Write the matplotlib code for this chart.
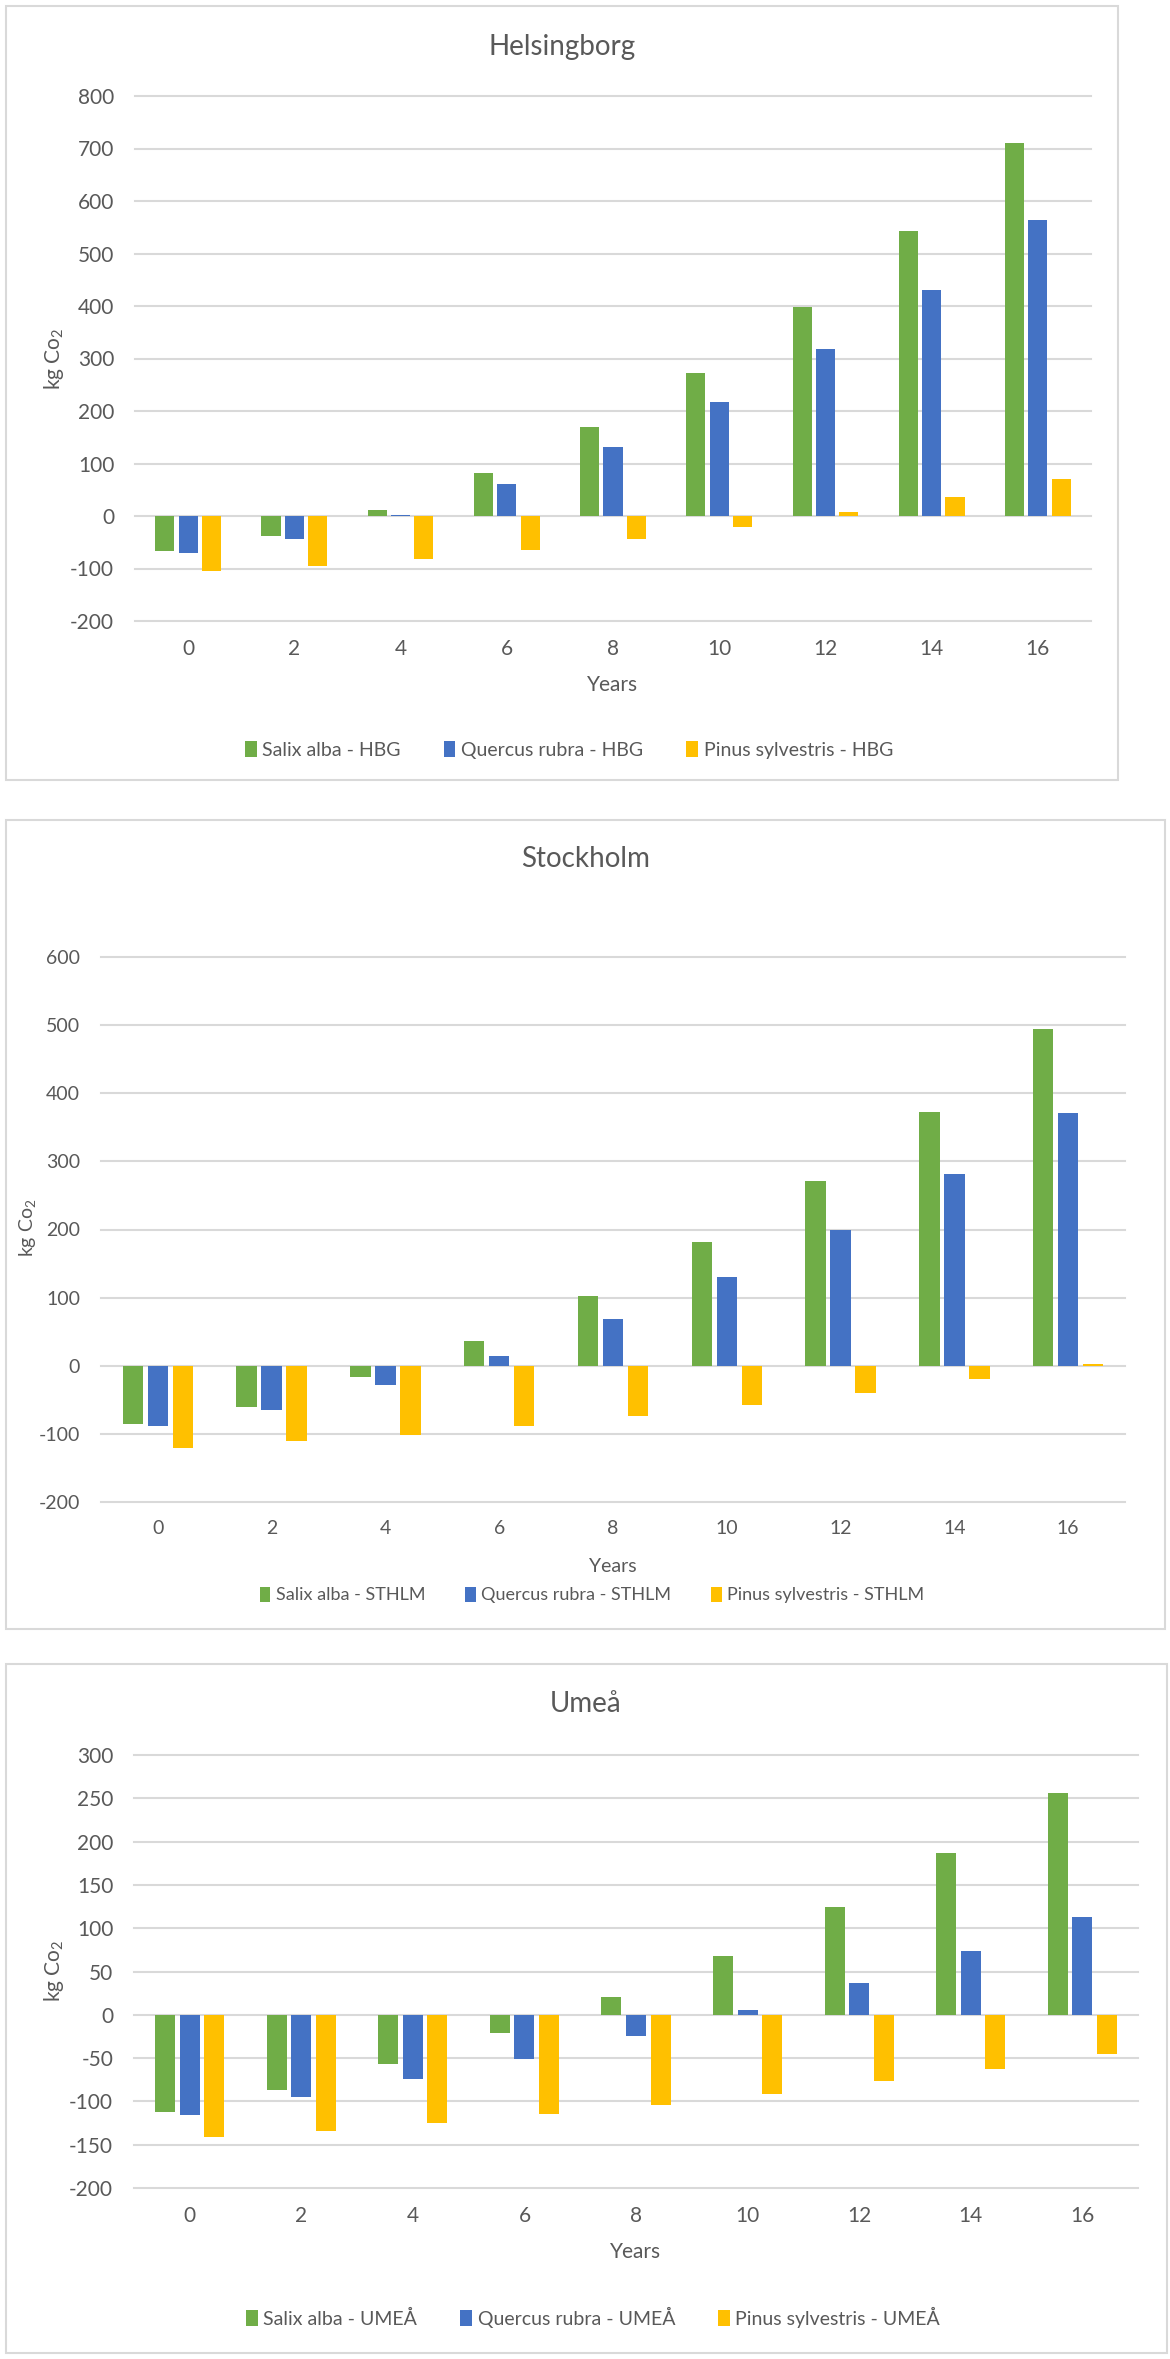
import numpy as np
import matplotlib
matplotlib.use('Agg')
import matplotlib.pyplot as plt
from matplotlib.patches import Rectangle

plt.rcParams['font.family'] = ['Lato', 'DejaVu Sans']
plt.rcParams['mathtext.fontset'] = 'custom'
plt.rcParams['mathtext.rm'] = 'Lato'
plt.rcParams['mathtext.it'] = 'Lato:italic'
plt.rcParams['axes.unicode_minus'] = False

years = ['0', '2', '4', '6', '8', '10', '12', '14', '16']

# Helsingborg
hbg_salix = [-66, -39, 12, 82, 169, 273, 398, 543, 710]
hbg_quercus = [-71, -44, 2, 61, 132, 217, 318, 431, 564]
hbg_pinus = [-105, -95, -81, -64, -44, -21, 7, 36, 70]

# Stockholm
sthlm_salix = [-85, -60, -17, 36, 102, 182, 271, 373, 495]
sthlm_quercus = [-89, -65, -28, 15, 68, 130, 200, 281, 371]
sthlm_pinus = [-120, -111, -101, -89, -74, -58, -40, -20, 2]

# Umea
umea_salix = [-112, -87, -57, -21, 20, 68, 124, 187, 256]
umea_quercus = [-116, -95, -74, -51, -25, 5, 37, 74, 113]
umea_pinus = [-141, -134, -125, -115, -104, -91, -77, -63, -45]

green = '#70AD47'
blue = '#4472C4'
gold = '#FFC000'
grid = '#D9D9D9'
txt = '#595959'

W, H = 1170, 2359
fig = plt.figure(figsize=(W / 100, H / 100), dpi=100)


def fx(x):
    return x / W


def fy(y):
    return 1 - y / H


def frame(x0, y0, x1, y1):
    fig.patches.append(Rectangle((fx(x0), fy(y1)), fx(x1 - x0), (y1 - y0) / H,
                                 transform=fig.transFigure, facecolor='none',
                                 edgecolor=grid, lw=1.5, zorder=-1))


def panel(box, ylim, step, title, tpos, series, labels, xl_y, leg_pos, ylab_pos, fs=14):
    x0, y0, x1, y1 = box
    ax = fig.add_axes([fx(x0), fy(y1), fx(x1 - x0), (y1 - y0) / H], zorder=2)
    ax.patch.set_alpha(0)
    x = np.arange(len(years))
    cols = [green, blue, gold]
    offs = [-0.22, 0, 0.22]
    for s, c, o, lab in zip(series, cols, offs, labels):
        ax.bar(x + o, s, 0.18, color=c, label=lab, zorder=3)
    ax.set_xlim(-0.5, len(years) - 0.5)
    ax.set_ylim(*ylim)
    ax.set_yticks(np.arange(ylim[0], ylim[1] + 1, step))
    ax.set_xticks(x)
    ax.set_xticklabels(years)
    for sp in ax.spines.values():
        sp.set_visible(False)
    ax.tick_params(length=0, labelsize=fs + 1, colors=txt)
    ax.tick_params(axis='y', pad=15)
    ax.tick_params(axis='x', pad=13)
    ax.yaxis.grid(True, color=grid, lw=1.5, zorder=0)
    for gl in ax.get_ygridlines():
        gl.set_clip_on(False)
    ax.set_axisbelow(True)
    fig.text(fx(tpos[0]), fy(tpos[1]), title, ha='center', va='center',
             fontsize=20, color=txt)
    fig.text(fx((x0 + x1) / 2), fy(xl_y), 'Years', ha='center', va='center',
             fontsize=fs + 1, color=txt)
    fig.text(fx(ylab_pos[0]), fy(ylab_pos[1]), 'kg Co$_2$', ha='center', va='center',
             rotation=90, fontsize=fs + 1, color=txt)
    ax.legend(loc='center', bbox_to_anchor=(fx(leg_pos[0]), fy(leg_pos[1])),
              bbox_transform=fig.transFigure, ncol=3, frameon=False,
              fontsize=fs, handlelength=0.6, handleheight=0.9, handletextpad=0.3,
              columnspacing=2.2, labelcolor=txt)
    return ax


frame(6, 6, 1118, 780)
panel((135, 96, 1091, 621), (-200, 800), 100, 'Helsingborg', (562, 47),
      [hbg_salix, hbg_quercus, hbg_pinus],
      ['Salix alba - HBG', 'Quercus rubra - HBG', 'Pinus sylvestris - HBG'],
      685, (569, 750), (54, 359))

frame(6, 820, 1165, 1629)
panel((101, 957, 1125, 1502), (-200, 600), 100, 'Stockholm', (586, 859),
      [sthlm_salix, sthlm_quercus, sthlm_pinus],
      ['Salix alba - STHLM', 'Quercus rubra - STHLM', 'Pinus sylvestris - STHLM'],
      1567, (592, 1595), (27, 1228), fs=13)

frame(6, 1664, 1167, 2353)
panel((134, 1755, 1138, 2188), (-200, 300), 50, 'Umeå', (586, 1704),
      [umea_salix, umea_quercus, umea_pinus],
      ['Salix alba - UMEÅ', 'Quercus rubra - UMEÅ', 'Pinus sylvestris - UMEÅ'],
      2252, (593, 2317), (54, 1971))

fig.savefig('out.png', dpi=100, facecolor='white')
